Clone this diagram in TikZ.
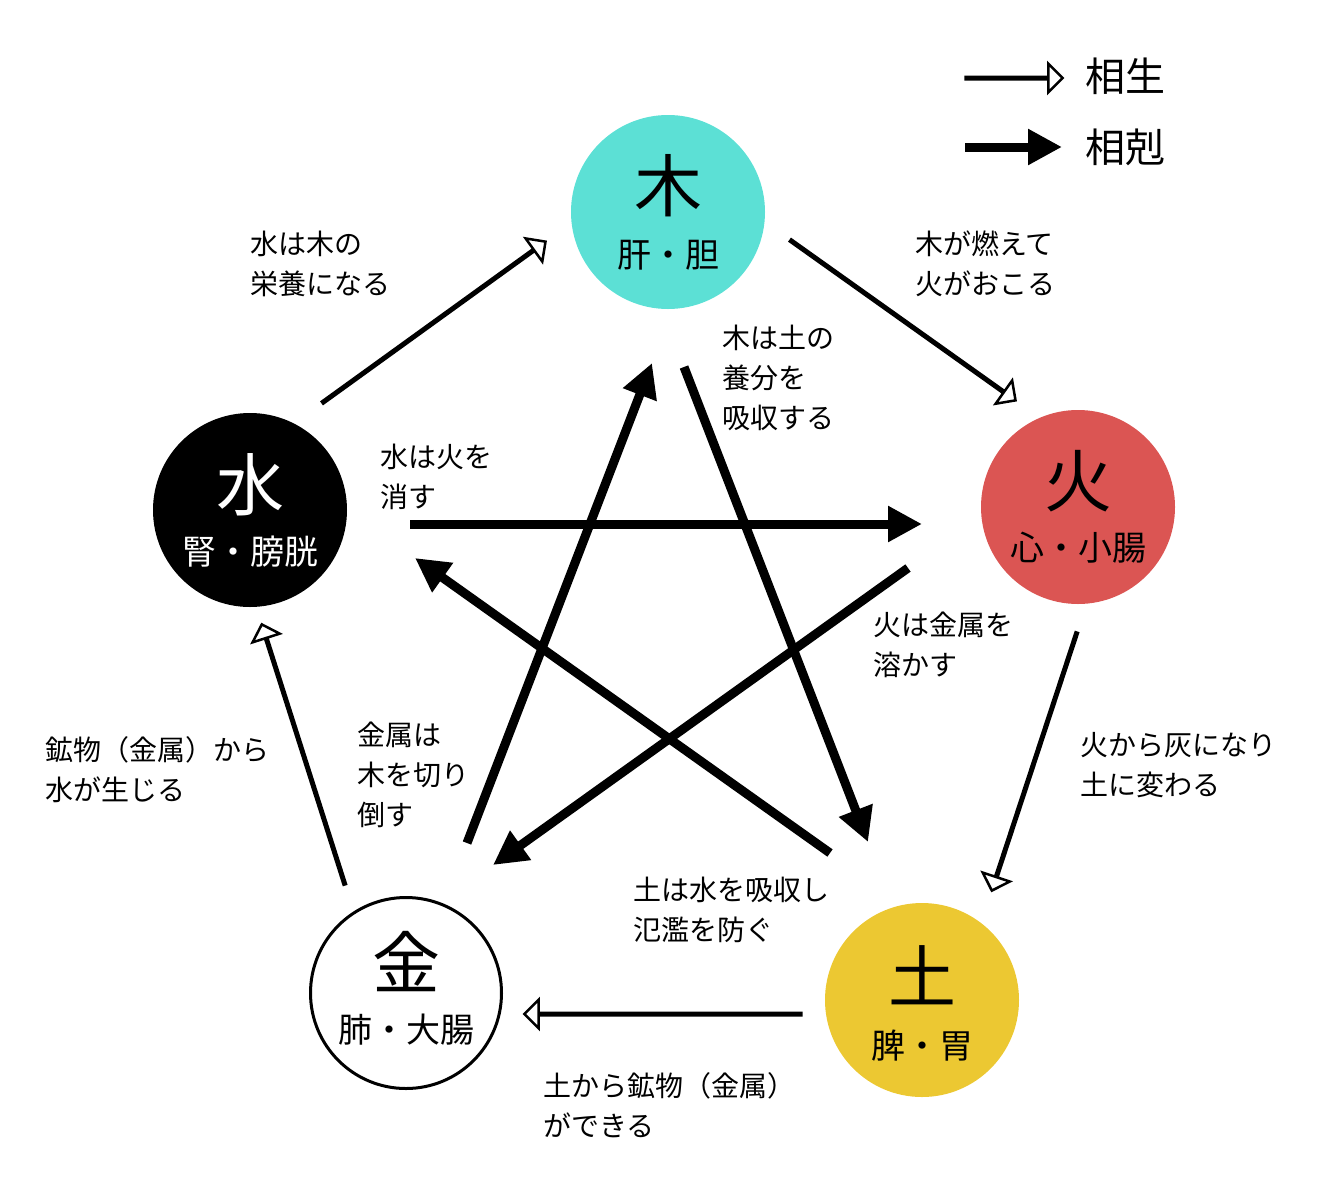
\documentclass[tikz,border=0pt]{standalone}
\usepackage{fontspec}
\setmainfont{Noto Sans CJK JP}
\usetikzlibrary{arrows.meta,shapes.arrows,calc}
\definecolor{wood}{HTML}{5CE0D5}
\definecolor{fire}{HTML}{DB5553}
\definecolor{earth}{HTML}{ECC832}
\tikzset{
  elem/.style={circle,minimum size=194pt,inner sep=0pt,align=center},
  lbl/.style={anchor=west,align=left,inner sep=0pt,font=\fontsize{28}{40}\selectfont},
  kill/.style={line width=9pt,-{Triangle[length=34pt,width=34pt]}},
}
\newcommand{\hollowarrow}[2]{%
  \path let \p1=(#1), \p2=(#2), \n1={atan2(\y2-\y1,\x2-\x1)}, \n2={veclen(\x2-\x1,\y2-\y1)} in
    node[single arrow,draw=black,line width=2.5pt,fill=white,inner sep=0pt,
      minimum width=17pt,single arrow head extend=13pt,single arrow head indent=0pt,
      minimum height=\n2,rotate=\n1,shape border rotate=0] at ($(#1)!0.5!(#2)$) {};}
\begin{document}
\begin{tikzpicture}[x=1pt,y=-1pt]
\useasboundingbox (0,0) rectangle (1344,1200);
\node[elem,fill=wood] (moku) at (668,212) {};
\node[elem,fill=fire] (ka) at (1078,507) {};
\node[elem,fill=earth] (do) at (922,1000) {};
\node[elem,fill=white,draw=black,line width=3pt,minimum size=191pt] (kin) at (406,993) {};
\node[elem,fill=black] (sui) at (250,510) {};
\node[font=\fontsize{68}{70}\selectfont] at (668,186) {木};
\node[font=\fontsize{34}{36}\selectfont] at (668,255) {肝・胆};
\node[font=\fontsize{68}{70}\selectfont] at (1078,481) {火};
\node[font=\fontsize{34}{36}\selectfont] at (1078,548) {心・小腸};
\node[font=\fontsize{68}{70}\selectfont] at (922,975) {土};
\node[font=\fontsize{34}{36}\selectfont] at (922,1046) {脾・胃};
\node[font=\fontsize{68}{70}\selectfont] at (406,962) {金};
\node[font=\fontsize{34}{36}\selectfont] at (406,1030) {肺・大腸};
\node[font=\fontsize{68}{70}\selectfont,text=white] at (250,485) {水};
\node[font=\fontsize{34}{36}\selectfont,text=white] at (250,552) {腎・膀胱};
% hollow arrows
\coordinate (a1) at (322,403); \coordinate (b1) at (545,242);
\coordinate (a2) at (790,240); \coordinate (b2) at (1015,400);
\coordinate (a3) at (1077,632); \coordinate (b3) at (992,890);
\coordinate (a4) at (802,1014); \coordinate (b4) at (525,1014);
\coordinate (a5) at (345,885); \coordinate (b5) at (262,625);
\hollowarrow{a1}{b1}\hollowarrow{a2}{b2}\hollowarrow{a3}{b3}\hollowarrow{a4}{b4}\hollowarrow{a5}{b5}
% black arrows
\coordinate (c1) at (684,367); \coordinate (d1) at (868,842);
\coordinate (c2) at (830,853); \coordinate (d2) at (415,558);
\coordinate (c3) at (410,524); \coordinate (d3) at (922,524);
\coordinate (c4) at (908,568); \coordinate (d4) at (493,865);
\coordinate (c5) at (467,843); \coordinate (d5) at (652,363);
\draw[kill] (c1) -- (d1);
\draw[kill] (c2) -- (d2);
\draw[kill] (c3) -- (d3);
\draw[kill] (c4) -- (d4);
\draw[kill] (c5) -- (d5);
% legend
\coordinate (la) at (965,78); \coordinate (lb) at (1062,78);
\hollowarrow{la}{lb}
\coordinate (lc) at (965,147); \coordinate (ld) at (1062,147);
\draw[kill] (lc) -- (ld);
\node[anchor=west,font=\fontsize{40}{40}\selectfont] (l1) at (1082,76) {相生};
\node[anchor=west,font=\fontsize{40}{40}\selectfont] (l2) at (1082,147) {相剋};
% labels
\node[lbl] (t1) at (250,264) {水は木の\\栄養になる};
\node[lbl] (t2) at (915,264) {木が燃えて\\火がおこる};
\node[lbl] (t3) at (722,378) {木は土の\\養分を\\吸収する};
\node[lbl] (t4) at (380,477) {水は火を\\消す};
\node[lbl] (t5) at (873,645) {火は金属を\\溶かす};
\node[lbl] (t6) at (1080,765) {火から灰になり\\土に変わる};
\node[lbl] (t7) at (45,770) {鉱物（金属）から\\水が生じる};
\node[lbl] (t8) at (357,775) {金属は\\木を切り\\倒す};
\node[lbl] (t9) at (633,910) {土は水を吸収し\\氾濫を防ぐ};
\node[lbl] (t10) at (543,1105) {土から鉱物（金属）\\ができる};
\end{tikzpicture}
\end{document}
